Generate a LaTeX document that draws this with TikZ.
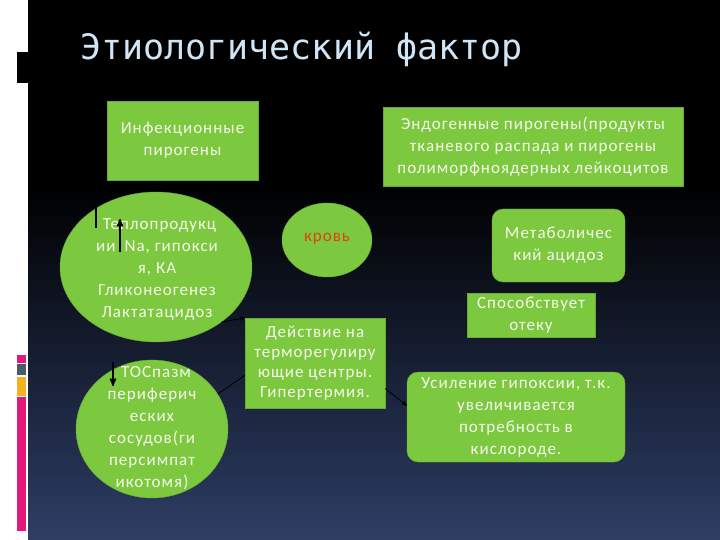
\documentclass[tikz,border=0pt]{standalone}
\usepackage{fontspec}
\setmainfont{Carlito}[LetterSpace=6]
\newfontfamily\titlefont{DejaVu Sans Mono}
\usepackage{tikz}
\usetikzlibrary{positioning,arrows,shapes.geometric}
\definecolor{leafgreen}{RGB}{124,200,62}
\definecolor{paletext}{RGB}{246,250,236}
\definecolor{titleblue}{RGB}{208,230,246}
\definecolor{bgblue}{RGB}{92,120,170}
\definecolor{bgmid}{RGB}{38,52,86}
\definecolor{barpink}{RGB}{226,24,122}
\definecolor{bargray}{RGB}{76,90,104}
\definecolor{baryellow}{RGB}{242,178,32}
\definecolor{bloodred}{RGB}{226,64,16}
\pgfdeclareverticalshading{slidebg}{100bp}{color(0bp)=(bgblue); color(30bp)=(bgmid); color(58bp)=(black); color(100bp)=(black)}
\tikzset{
    >=stealth',
    greenbox/.style={
        rectangle,
        fill=leafgreen,
        draw=leafgreen!85!black,
        text=paletext,
        align=center,
        inner sep=0pt,
        font={\fontsize{17}{22}\selectfont}
    },
    roundbox/.style={greenbox, rounded corners=11pt},
    greenoval/.style={ellipse, fill=leafgreen, draw=leafgreen!85!black, inner sep=0pt},
    ovaltext/.style={text=paletext, align=center, inner sep=0pt, font={\fontsize{17}{22}\selectfont}},
    link/.style={draw=black, thick, ->},
    textmark/.style={draw=black, line width=1.6pt},
}

\begin{document}
\begin{tikzpicture}[x=1pt,y=-1pt]
    % slide background
    \useasboundingbox (0,0) rectangle (720,540);
    \shade[shading=slidebg] (28,0) rectangle (720,540);
    \fill[white] (0,0) rectangle (28,540);
    \fill[black] (17,52) rectangle (28,83);
    \fill[barpink] (17,355) rectangle (26,363);
    \fill[bargray] (17,364) rectangle (26,375);
    \fill[baryellow] (17,377) rectangle (26,396);
    \fill[barpink] (17,397) rectangle (26,531);

    \node[anchor=base west, text=titleblue, inner sep=0pt,
        font={\titlefont\fontsize{35}{38}\selectfont}] (title) at (80,60) {Этиологический фактор};

    \node[greenbox, minimum width=151, minimum height=79] (infect) at (182.5,140.5) {Инфекционные\\пирогены};
    \node[greenbox, minimum width=300, minimum height=79] (endo) at (533,146.5) {Эндогенные пирогены(продукты\\тканевого распада и пирогены\\полиморфноядерных лейкоцитов};

    \node[greenoval, minimum width=192, minimum height=150] (heat) at (156,267) {};
    \node[ovaltext] (heattext) at (157,269) {\hspace{5pt}Теплопродукц\\ии\hspace{9pt}Na, гипокси\\я, КА\\Гликонеогенез\\Лактатацидоз};
    \node[greenoval, minimum width=152, minimum height=138] (spasm) at (152,429) {};
    \node[ovaltext] (spasmtext) at (152,428) {\hspace{8pt}ТОСпазм\\периферич\\еских\\сосудов(ги\\персимпат\\икотомя)};
    \node[greenoval, minimum width=90, minimum height=74] (blood) at (327,240) {};
    \node[ovaltext, text=bloodred] (bloodtext) at (327,239) {кровь};

    \node[greenbox, minimum width=140, minimum height=90, font={\fontsize{17}{20}\selectfont}] (action) at (315,363) {Действие на\\терморегулиру\\ющие центры.\\Гипертермия.};
    \node[roundbox, minimum width=133, minimum height=73] (acid) at (558.5,245.5) {Метаболичес\\кий ацидоз};
    \node[greenbox, minimum width=128, minimum height=44] (edema) at (531,315) {Способствует\\отеку};
    \node[roundbox, minimum width=218, minimum height=90] (hypox) at (516,417) {Усиление гипоксии, т.к.\\увеличивается\\потребность в\\кислороде.};

    % arrows written inside the ovals
    \draw[textmark] (96,207) -- (96,228);
    \draw[textmark, ->] (120,252) -- (120,219);
    \draw[textmark, ->] (113,362) -- (113,386);

    \draw[link] (heat.-40) -- (action.north west);
    \draw[thick, black] (spasm.28) -- (action.-170);
    \draw[link] (action.-20) -- (hypox.174);
\end{tikzpicture}
\end{document}
